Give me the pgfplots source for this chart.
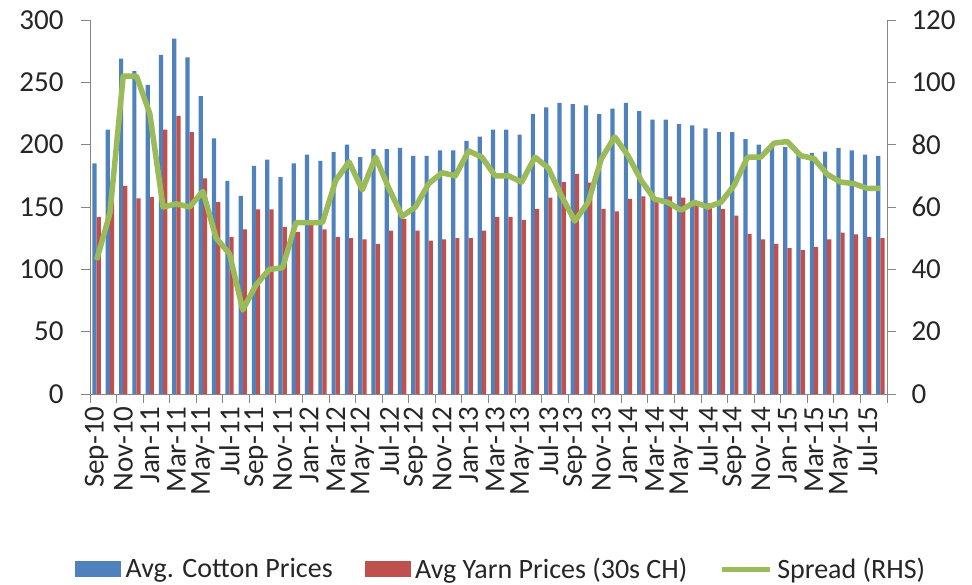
\documentclass[border=0pt]{standalone}
\usepackage{fontspec}
\setmainfont{Carlito}
\usepackage{pgfplots}
\pgfplotsset{compat=1.18}
\usepackage{pgfplotstable}
\definecolor{cblue}{HTML}{4F81BD}
\definecolor{cred}{HTML}{C0504D}
\definecolor{cgreen}{HTML}{9BBB59}
\definecolor{axgray}{HTML}{868686}

\pgfplotstableread{
x cotton yarn spread
0 185 142 43
1 212 154 58
2 269 167 102
3 259 157 102
4 248 158 90
5 272 212 60
6 285 223 61
7 270 210 60
8 239 173 65
9 205 154 50
10 171 126 45
11 159 132 27
12 183 148 35
13 188 148 40
14 174 134 40.5
15 185 130 55
16 192 137 55
17 187 132 55
18 194 126 68.5
19 200 125 74.5
20 190 124 65.5
21 196.5 120.5 76
22 196.5 131 66
23 197.5 140.5 57
24 191 131 60
25 191 123 67.5
26 195.5 124 71
27 195.5 125 70
28 203 125 78
29 206.5 131 76
30 212 142 70
31 212 142 70
32 208 139.5 68
33 224.5 148.5 76
34 230 157.5 72.5
35 233.5 170 63.5
36 232.5 176.5 55.5
37 231.5 169.5 61.5
38 224.5 148.5 75.5
39 229 146.5 82.5
40 233.5 156.5 76.5
41 227 158.5 68.5
42 220 157.5 62.5
43 220 158.5 61.5
44 216.5 157.5 59
45 215.5 154 61.5
46 213 153 60
47 210 148.5 61.5
48 210 143 67
49 204.5 128.5 76
50 200 124 76
51 201 120.5 80.5
52 198 117 81
53 192 115.5 76.5
54 193.5 118 75.5
55 194.5 124 70.5
56 197.5 129.5 68
57 195.5 128 67.5
58 192 126 66
59 191 125 66
}\datatable

\begin{document}
\begin{tikzpicture}
\pgfplotsset{
  every axis/.append style={
    scale only axis, width=797pt, height=374pt,
    xmin=-0.5, xmax=59.5,
    /pgf/number format/assume math mode=true,
    tick label style={font=\fontsize{29}{34}\selectfont, text=black!85},
    axis line style={axgray, line width=1pt},
    tick style={axgray, line width=1pt},
    tick align=outside,
    major tick length=9pt,
  }
}
\begin{axis}[name=ax,
  ymin=0, ymax=300, ytick={0,50,...,300},
  axis y line*=left, axis x line*=bottom,
  ybar=0pt, bar width=4.2pt,
  xtick={0,2,...,58},
  xticklabels={Sep-10,Nov-10,Jan-11,Mar-11,May-11,Jul-11,Sep-11,Nov-11,Jan-12,Mar-12,May-12,Jul-12,Sep-12,Nov-12,Jan-13,Mar-13,May-13,Jul-13,Sep-13,Nov-13,Jan-14,Mar-14,May-14,Jul-14,Sep-14,Nov-14,Jan-15,Mar-15,May-15,Jul-15},
  x tick label style={rotate=90, anchor=east},
  y tick label style={xshift=-14pt},
  xtick style={draw=none},
]
\addplot[fill=cblue, draw=none] table[x=x,y=cotton]{\datatable};
\addplot[fill=cred, draw=none] table[x=x,y=yarn]{\datatable};
\end{axis}
\begin{axis}[
  ymin=0, ymax=120, ytick={0,20,...,120},
  axis y line*=right, axis x line*=bottom,
  xtick={-0.5,1.5,...,59.5}, xticklabels={},
  y tick label style={xshift=12pt},
  legend columns=3,
  legend style={at={(0.516,-0.468)}, anchor=center, draw=none, fill=none,
    font=\fontsize{28}{33}\selectfont, text=black!85,
    /tikz/every odd column/.append style={column sep=3pt},
    /tikz/every even column/.append style={column sep=30pt}},
]
\addlegendimage{legend image code/.code={\fill[cblue] (0pt,-7.5pt) rectangle (45pt,7.5pt);}}
\addlegendentry{Avg. Cotton Prices}
\addlegendimage{legend image code/.code={\fill[cred] (0pt,-7.5pt) rectangle (45pt,7.5pt);}}
\addlegendentry{Avg Yarn Prices (30s CH)}
\addplot[cgreen, line width=5.5pt, line join=round,
  legend image code/.code={\draw[cgreen, line width=5pt] (0pt,0pt) -- (48pt,0pt);}]
  table[x=x,y=spread]{\datatable};
\addlegendentry{Spread (RHS)}
\end{axis}
\pgfresetboundingbox
\path ([shift={(-90pt,-190pt)}]ax.south west) rectangle ([shift={(85pt,20pt)}]ax.north east);
\end{tikzpicture}
\end{document}
